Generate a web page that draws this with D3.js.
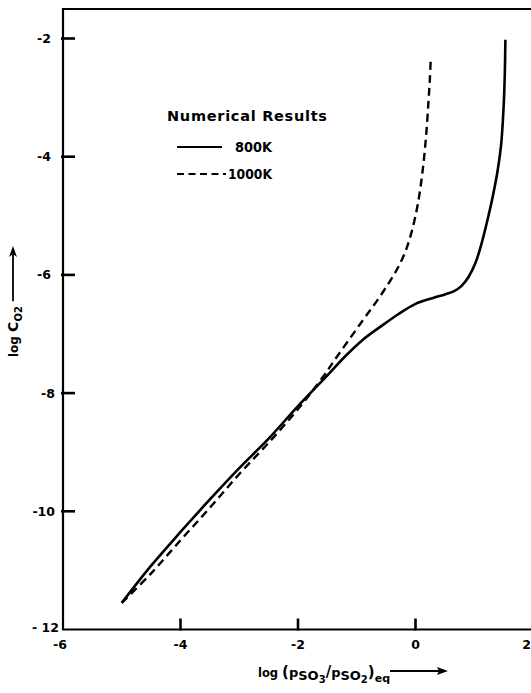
<!DOCTYPE html>
<html>
<head>
<meta charset="utf-8">
<script src="https://cdn.jsdelivr.net/npm/d3@7"></script>
<style>
  html, body { margin: 0; padding: 0; background: #fff; }
  svg text { font-family: "DejaVu Sans", sans-serif; font-weight: bold; fill: #000; }
</style>
</head>
<body>
<svg id="chart" width="531" height="693"></svg>
<script>
// ---- data ----
const xTicks = [-6, -4, -2, 0, 2];
const yTicks = [-2, -4, -6, -8, -10, -12];
const seriesNames = ["800K", "1000K"];
const legendTitle = "Numerical Results";

const x800 = [-5.0, -4.5, -4.0, -3.5, -3.0, -2.5, -2.0, -1.5, -1.2, -0.9, -0.6, -0.3, 0.0, 0.3, 0.5, 0.65, 0.78, 0.9, 1.02, 1.13, 1.23, 1.32, 1.40, 1.46, 1.50, 1.52, 1.53];
const y800 = [-11.55, -10.92, -10.35, -9.80, -9.27, -8.77, -8.22, -7.70, -7.38, -7.10, -6.88, -6.67, -6.49, -6.39, -6.33, -6.28, -6.19, -6.04, -5.80, -5.45, -5.05, -4.65, -4.22, -3.77, -3.15, -2.60, -2.02];

const x1000 = [-5.0, -4.5, -4.0, -3.5, -3.0, -2.5, -2.0, -1.57, -1.37, -0.89, -0.65, -0.45, -0.30, -0.17, -0.06, 0.04, 0.12, 0.18, 0.22, 0.245, 0.26];
const y1000 = [-11.55, -11.05, -10.49, -9.94, -9.37, -8.84, -8.27, -7.72, -7.43, -6.76, -6.43, -6.13, -5.88, -5.60, -5.25, -4.80, -4.25, -3.65, -3.08, -2.68, -2.33];

// ---- layout ----
const svg = d3.select("#chart");
const x = d3.scaleLinear().domain([-6, 2]).range([63, 533]);
const y = d3.scaleLinear().domain([-12, -2]).range([629.5, 38.5]);
const frameTop = 9, frameRight = 531;

// frame
svg.append("path")
  .attr("d", `M${frameRight},${frameTop} L${x(-6)},${frameTop} L${x(-6)},${y(-12)} L${frameRight},${y(-12)}`)
  .attr("fill", "none").attr("stroke", "#000").attr("stroke-width", 2.2);

// ticks (inward), positioned by the scales
yTicks.filter(d => d !== -12).forEach(d => {
  svg.append("rect").attr("x", x(-6) - 2).attr("y", y(d) - 1.3)
    .attr("width", 14).attr("height", 2.6).attr("fill", "#000");
});
xTicks.filter(d => d !== -6).forEach(d => {
  svg.append("rect").attr("x", x(d) - 1.3).attr("y", y(-12) - 11)
    .attr("width", 2.6).attr("height", 12).attr("fill", "#000");
});

// y tick labels
yTicks.filter(d => d !== -12).forEach(d => {
  svg.append("text")
    .attr("x", d <= -8 ? 55 : 51).attr("y", y(d) + 4.5)
    .attr("text-anchor", "end").attr("font-size", 12.5)
    .text("-" + Math.abs(d));
});
svg.append("text").attr("x", 59).attr("y", y(-12) + 2)
  .attr("text-anchor", "end").attr("font-size", 12.5).text("- 12");

// x tick labels
xTicks.forEach(d => {
  svg.append("text")
    .attr("x", d === 2 ? frameRight : x(d) + (d === -6 ? -3 : 0))
    .attr("y", y(-12) + 19)
    .attr("text-anchor", d === 2 ? "end" : "middle").attr("font-size", 12.5)
    .text(d < 0 ? "-" + Math.abs(d) : String(d));
});

// curves
const line = d3.line().x(d => x(d[0])).y(d => y(d[1])).curve(d3.curveCatmullRom.alpha(0.5));
svg.append("path").datum(d3.zip(x800, y800)).attr("d", line)
  .attr("fill", "none").attr("stroke", "#000").attr("stroke-width", 2.6);
svg.append("path").datum(d3.zip(x1000, y1000)).attr("d", line)
  .attr("fill", "none").attr("stroke", "#000").attr("stroke-width", 2.4)
  .attr("stroke-dasharray", "8,5");

// legend
svg.append("text").attr("x", 167).attr("y", 121).attr("font-size", 14.5)
  .attr("textLength", 160).attr("lengthAdjust", "spacing").text(legendTitle);
svg.append("line").attr("x1", 177).attr("x2", 222).attr("y1", 147).attr("y2", 147)
  .attr("stroke", "#000").attr("stroke-width", 2.2);
svg.append("text").attr("x", 235).attr("y", 152).attr("font-size", 13.5)
  .attr("textLength", 37).attr("lengthAdjust", "spacingAndGlyphs").text(seriesNames[0]);
svg.append("line").attr("x1", 177).attr("x2", 226).attr("y1", 174).attr("y2", 174)
  .attr("stroke", "#000").attr("stroke-width", 2.2).attr("stroke-dasharray", "7,4.5");
svg.append("text").attr("x", 228).attr("y", 179).attr("font-size", 13.5)
  .attr("textLength", 44).attr("lengthAdjust", "spacingAndGlyphs").text(seriesNames[1]);

// x axis title
const xt = svg.append("text").attr("x", 258).attr("y", 677).attr("font-size", 13);
xt.append("tspan").attr("font-size", 11.5).text("log ");
xt.append("tspan").attr("font-size", 15).text("(");
xt.append("tspan").text("p");
xt.append("tspan").attr("font-size", 13).attr("dy", 3).text("SO");
xt.append("tspan").attr("font-size", 10).attr("dy", 3).text("3");
xt.append("tspan").attr("font-size", 15).attr("dy", -6).text("/");
xt.append("tspan").text("p");
xt.append("tspan").attr("font-size", 13).attr("dy", 3).text("SO");
xt.append("tspan").attr("font-size", 10).attr("dy", 3).text("2");
xt.append("tspan").attr("font-size", 15).attr("dy", -6).text(")");
xt.append("tspan").attr("font-size", 11).attr("dy", 5).text("eq");
// arrow
const xtEnd = 258 + xt.node().getComputedTextLength();
svg.append("line").attr("x1", xtEnd).attr("x2", 441).attr("y1", 671).attr("y2", 671)
  .attr("stroke", "#000").attr("stroke-width", 1.8);
svg.append("path").attr("d", `M448,671 L437,667 L439,671 L437,675 Z`).attr("fill", "#000");

// y axis title
const yt = svg.append("text").attr("transform", "translate(18,357) rotate(-90)").attr("font-size", 13);
yt.append("tspan").attr("font-size", 12).text("log ");
yt.append("tspan").attr("font-size", 14).text("C");
yt.append("tspan").attr("font-size", 10).attr("dy", 4).text("O2");
const ytLen = yt.node().getComputedTextLength();
svg.append("line").attr("x1", 13).attr("x2", 13).attr("y1", 357 - ytLen - 5).attr("y2", 252)
  .attr("stroke", "#000").attr("stroke-width", 1.8);
svg.append("path").attr("d", `M13,246 L9,257 L13,254 L17,257 Z`).attr("fill", "#000");
</script>
</body>
</html>
